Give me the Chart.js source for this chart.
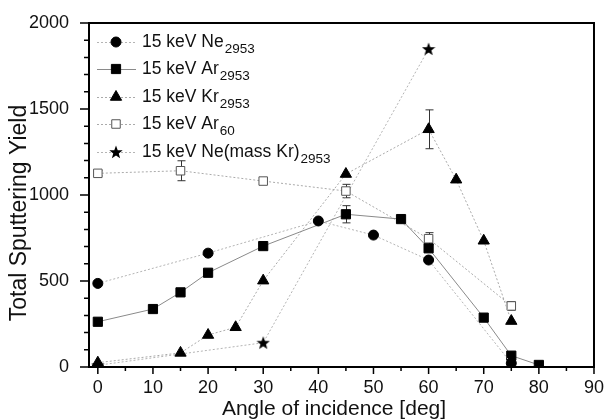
<!DOCTYPE html>
<html>
<head>
<meta charset="utf-8">
<script src="https://cdn.jsdelivr.net/npm/chart.js@4/dist/chart.umd.min.js"></script>
<style>
  html, body { margin: 0; padding: 0; background: #fff; }
  #wrap { width: 606px; height: 419px; }
</style>
</head>
<body>
<div id="wrap"><canvas id="c" width="606" height="419"></canvas></div>
<script>
// data
const neAngle = [0, 20, 40, 50, 60, 75];
const neYield = [486, 662, 849, 767, 622, 22];

const arAngle = [0, 10, 15, 20, 30, 45, 55, 60, 70, 75, 80];
const arYield = [263, 337, 434, 548, 703, 888, 860, 690, 287, 66, 12];
const arErr   = [0, 0, 0, 0, 0, 50, 0, 0, 0, 0, 0];

const krAngle = [0, 15, 20, 25, 30, 45, 60, 65, 70, 75];
const krYield = [25, 82, 186, 231, 502, 1122, 1382, 1089, 734, 267];
const krErr   = [0, 0, 0, 0, 0, 0, 113, 0, 0, 0];

const ar60Angle = [0, 15, 30, 45, 60, 75];
const ar60Yield = [1126, 1141, 1081, 1023, 746, 355];
const ar60Err   = [15, 58, 15, 39, 35, 25];

const starAngle = [0, 30, 60];
const starYield = [10, 141, 1849];

const legendMain = ['15 keV Ne', '15 keV Ar', '15 keV Kr', '15 keV Ar', '15 keV Ne(mass Kr)'];
const legendSub  = ['2953', '2953', '2953', '60', '2953'];

const xTicks = [0, 10, 20, 30, 40, 50, 60, 70, 80, 90];
const yTicks = [0, 500, 1000, 1500, 2000];

function pts(xs, ys) {
  return xs.map((x, i) => ({ x: x, y: ys[i] }));
}

// filled star marker
const starImg = document.createElement('canvas');
starImg.width = 14; starImg.height = 14;
(function () {
  const g = starImg.getContext('2d');
  g.fillStyle = '#000';
  g.beginPath();
  for (let i = 0; i < 10; i++) {
    const r = i % 2 === 0 ? 7 : 2.9;
    const a = -Math.PI / 2 + i * Math.PI / 5;
    const px = 7 + r * Math.cos(a), py = 7.5 + r * Math.sin(a);
    if (i === 0) g.moveTo(px, py); else g.lineTo(px, py);
  }
  g.closePath();
  g.fill();
})();

const datasets = [
  { data: pts(neAngle, neYield), pointStyle: 'circle', pointRadius: 5,
    backgroundColor: '#000', pointBorderColor: '#000', borderColor: '#b4b4b4', borderDash: [2, 2] },
  { data: pts(arAngle, arYield), err: arErr, pointStyle: 'rect', pointRadius: 6.5,
    backgroundColor: '#000', pointBorderColor: '#000', borderColor: '#8a8a8a', borderDash: [] },
  { data: pts(krAngle, krYield), err: krErr, pointStyle: 'triangle', pointRadius: 6.5,
    backgroundColor: '#000', pointBorderColor: '#000', borderColor: '#aaaaaa', borderDash: [2, 2] },
  { data: pts(ar60Angle, ar60Yield), err: ar60Err, pointStyle: 'rect', pointRadius: 6,
    backgroundColor: '#fff', pointBorderColor: '#555', borderColor: '#aaaaaa', borderDash: [2, 2] },
  { data: pts(starAngle, starYield), pointStyle: starImg, pointRadius: 7,
    backgroundColor: '#000', pointBorderColor: '#000', borderColor: '#b4b4b4', borderDash: [2, 2] }
].map(d => Object.assign({
  borderWidth: 1, pointBorderWidth: 1, pointBackgroundColor: d.backgroundColor,
  showLine: true, tension: 0, pointHoverRadius: d.pointRadius
}, d));

const FONT = '"Liberation Sans", Arial, sans-serif';

const decor = {
  id: 'decor',
  beforeDatasetsDraw(chart) {
    // error bars, drawn under the markers
    const ctx = chart.ctx, xs = chart.scales.x, ys = chart.scales.y;
    ctx.save();
    ctx.strokeStyle = '#333';
    ctx.lineWidth = 1;
    chart.data.datasets.forEach(ds => {
      if (!ds.err) return;
      ds.data.forEach((p, i) => {
        const e = ds.err[i];
        if (!e) return;
        const px = Math.round(xs.getPixelForValue(p.x)) + 0.5;
        const y1 = ys.getPixelForValue(p.y + e), y2 = ys.getPixelForValue(p.y - e);
        ctx.beginPath();
        ctx.moveTo(px, y1); ctx.lineTo(px, y2);
        ctx.moveTo(px - 4, y1); ctx.lineTo(px + 4, y1);
        ctx.moveTo(px - 4, y2); ctx.lineTo(px + 4, y2);
        ctx.stroke();
      });
    });
    ctx.restore();
  },
  afterDraw(chart) {
    const ctx = chart.ctx, a = chart.chartArea, xs = chart.scales.x, ys = chart.scales.y;
    ctx.save();
    // frame
    ctx.strokeStyle = '#000';
    ctx.lineWidth = 2;
    ctx.strokeRect(a.left, a.top, a.right - a.left, a.bottom - a.top);
    // ticks (outward)
    ctx.lineWidth = 1.5;
    ctx.beginPath();
    for (let v = 0; v <= 2000; v += 100) {
      const py = ys.getPixelForValue(v);
      const len = v % 500 === 0 ? 9 : 5;
      ctx.moveTo(a.left, py); ctx.lineTo(a.left - len, py);
    }
    for (let v = 0; v <= 90; v += 5) {
      const px = xs.getPixelForValue(v);
      const len = v % 10 === 0 ? 7 : 4;
      ctx.moveTo(px, a.bottom); ctx.lineTo(px, a.bottom + len);
    }
    ctx.stroke();
    // axis titles
    ctx.fillStyle = '#111';
    ctx.textAlign = 'center';
    ctx.textBaseline = 'alphabetic';
    ctx.font = '21px ' + FONT;
    ctx.fillText('Angle of incidence [deg]', 334, 415);
    ctx.font = '23px ' + FONT;
    ctx.textBaseline = 'middle';
    ctx.translate(20, 213);
    ctx.rotate(-Math.PI / 2);
    ctx.fillText('Total Sputtering Yield', 0, 0);
    ctx.restore();

    // legend with subscripts
    ctx.save();
    const rowY = [42, 69, 97, 124, 152];
    chart.data.datasets.forEach((ds, i) => {
      const y = rowY[i];
      ctx.strokeStyle = ds.borderColor;
      ctx.lineWidth = 1;
      ctx.setLineDash(ds.borderDash);
      ctx.beginPath();
      ctx.moveTo(97, y + 0.5); ctx.lineTo(136, y + 0.5);
      ctx.stroke();
      ctx.setLineDash([]);
      ctx.fillStyle = ds.pointBackgroundColor;
      ctx.strokeStyle = ds.pointBorderColor;
      ctx.lineWidth = 1;
      Chart.helpers.drawPoint(ctx, { pointStyle: ds.pointStyle, radius: ds.pointRadius, borderWidth: 1 }, 116, y);
      ctx.fillStyle = '#111';
      ctx.textAlign = 'left';
      ctx.textBaseline = 'middle';
      ctx.font = '17.5px ' + FONT;
      ctx.fillText(legendMain[i], 142, y);
      const w = ctx.measureText(legendMain[i]).width;
      ctx.font = '13.5px ' + FONT;
      ctx.fillText(legendSub[i], 142 + w + 1, y + 7);
    });
    ctx.restore();
  }
};

new Chart(document.getElementById('c'), {
  type: 'scatter',
  data: { datasets: datasets },
  options: {
    responsive: false,
    animation: false,
    events: [],
    layout: { padding: { top: 23, right: 12, left: 0, bottom: 0 } },
    plugins: { legend: { display: false }, tooltip: { enabled: false } },
    scales: {
      x: {
        type: 'linear', min: -1.6, max: 90,
        grid: { display: false },
        border: { display: true, color: '#000', width: 2 },
        afterBuildTicks: s => { s.ticks = xTicks.map(v => ({ value: v })); },
        afterFit: s => { s.height = 52; },
        ticks: { color: '#111', font: { size: 18, family: FONT }, padding: 2, maxRotation: 0, autoSkip: false,
                 callback: v => String(v) }
      },
      y: {
        type: 'linear', min: 0, max: 2000,
        grid: { display: false },
        border: { display: true, color: '#000', width: 2 },
        afterBuildTicks: s => { s.ticks = yTicks.map(v => ({ value: v })); },
        afterFit: s => { s.width = 89; },
        ticks: { color: '#111', font: { size: 18, family: FONT }, padding: 12, autoSkip: false,
                 callback: v => String(v) }
      }
    }
  },
  plugins: [decor]
});
</script>
</body>
</html>
